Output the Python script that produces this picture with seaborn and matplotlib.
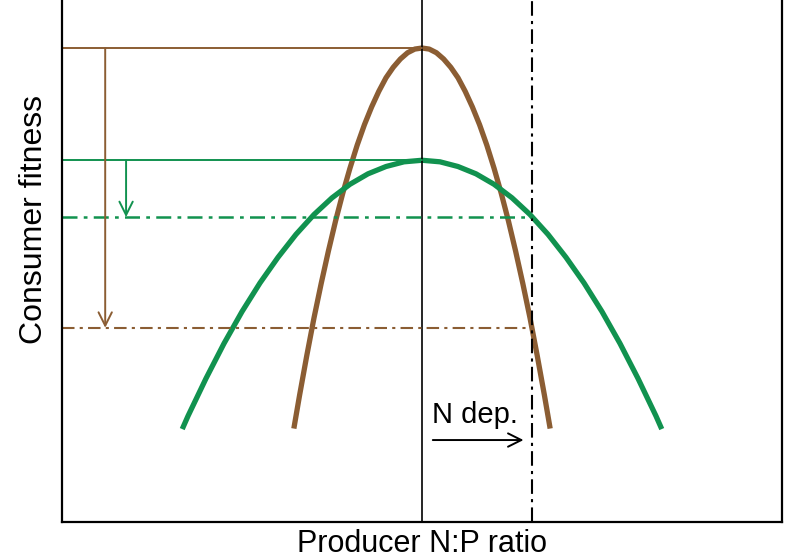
import matplotlib
matplotlib.use("Agg")
import matplotlib.pyplot as plt
import pandas as pd
import seaborn as sns

# curve values (x: producer N:P, y: consumer fitness)
brown_x = [3.22, 3.3, 3.4, 3.5, 3.6, 3.7, 3.8, 3.9, 4.0, 4.1, 4.2, 4.3, 4.4,
           4.5, 4.6, 4.7, 4.8, 4.9, 5.0, 5.1, 5.2, 5.3, 5.4, 5.5, 5.6, 5.7,
           5.8, 5.9, 6.0, 6.1, 6.2, 6.3, 6.4, 6.5, 6.6, 6.7, 6.78]
brown_y = [1.79, 2.43, 3.19, 3.91, 4.57, 5.19, 5.77, 6.30, 6.78, 7.22, 7.61,
           7.95, 8.25, 8.51, 8.71, 8.87, 8.99, 9.06, 9.08, 9.06, 8.99, 8.87,
           8.71, 8.51, 8.25, 7.95, 7.61, 7.22, 6.78, 6.30, 5.77, 5.19, 4.57,
           3.91, 3.19, 2.43, 1.79]
green_x = [1.67, 1.75, 2.0, 2.25, 2.5, 2.75, 3.0, 3.25, 3.5, 3.75, 4.0, 4.25,
           4.5, 4.75, 5.0, 5.25, 5.5, 5.75, 6.0, 6.25, 6.5, 6.75, 7.0, 7.25,
           7.5, 7.75, 8.0, 8.25, 8.33]
green_y = [1.78, 2.03, 2.75, 3.42, 4.03, 4.58, 5.07, 5.51, 5.89, 6.21, 6.47,
           6.67, 6.81, 6.90, 6.93, 6.90, 6.81, 6.67, 6.47, 6.21, 5.89, 5.51,
           5.07, 4.58, 4.03, 3.42, 2.75, 2.03, 1.78]

optimum_x = 5.0      # solid vertical line
dep_x = 6.53         # N deposition line
brown_peak, brown_dep = 9.08, 3.72
green_peak, green_dep = 6.93, 5.84

brown = "#8B5D33"
green = "#11924F"

sns.set_style("white")
plt.rcParams["font.family"] = ["Liberation Sans", "DejaVu Sans"]
plt.rcParams["text.color"] = "black"
plt.rcParams["axes.labelcolor"] = "black"

fig = plt.figure(figsize=(8, 5.6), dpi=100)
ax = fig.add_axes([62 / 800, 38 / 560, 720 / 800, 522 / 560])

brown_df = pd.DataFrame({"x": brown_x, "y": brown_y})
green_df = pd.DataFrame({"x": green_x, "y": green_y})
sns.lineplot(data=brown_df, x="x", y="y", sort=False, color=brown, lw=3.8,
             solid_capstyle="butt", solid_joinstyle="round", ax=ax)
sns.lineplot(data=green_df, x="x", y="y", sort=False, color=green, lw=3.8,
             solid_capstyle="butt", solid_joinstyle="round", ax=ax)

# reference lines
ax.axvline(optimum_x, color="black", lw=1.2)
ax.axvline(dep_x, color="black", lw=1.5, dashes=(7, 2.5, 1.5, 2.5))

ax.plot([0, optimum_x], [brown_peak, brown_peak], color=brown, lw=1.4)
ax.plot([0, dep_x], [brown_dep, brown_dep], color=brown, lw=1.5, dashes=(6, 2.5, 1.5, 2.5))
ax.plot([0, optimum_x], [green_peak, green_peak], color=green, lw=1.4)
ax.plot([0, dep_x], [green_dep, green_dep], color=green, lw=1.8, dashes=(6, 2.5, 1.5, 2.5))

# fitness drop arrows
ax.annotate("", xy=(0.6, brown_dep), xytext=(0.6, brown_peak),
            arrowprops=dict(arrowstyle="->", color=brown, lw=1.4,
                            mutation_scale=24, shrinkA=0, shrinkB=0))
ax.annotate("", xy=(0.89, green_dep), xytext=(0.89, green_peak),
            arrowprops=dict(arrowstyle="->", color=green, lw=1.4,
                            mutation_scale=24, shrinkA=0, shrinkB=0))

# N deposition arrow
ax.annotate("", xy=(6.41, 1.57), xytext=(5.15, 1.57),
            arrowprops=dict(arrowstyle="->", color="black", lw=1.4,
                            mutation_scale=24, shrinkA=0, shrinkB=0))
ax.text(5.14, 2.05, "N dep.", fontsize=21, va="center", ha="left")

ax.set_xlim(0, 10)
ax.set_ylim(0, 10)
ax.set_xticks([])
ax.set_yticks([])
ax.set_xlabel("Producer N:P ratio", fontsize=22, labelpad=5)
ax.set_ylabel("Consumer fitness", fontsize=23, labelpad=9, y=0.58)
ax.spines["top"].set_visible(False)
for side in ["left", "right", "bottom"]:
    ax.spines[side].set_color("black")
    ax.spines[side].set_linewidth(1.6)

fig.savefig("out.png", dpi=100)
